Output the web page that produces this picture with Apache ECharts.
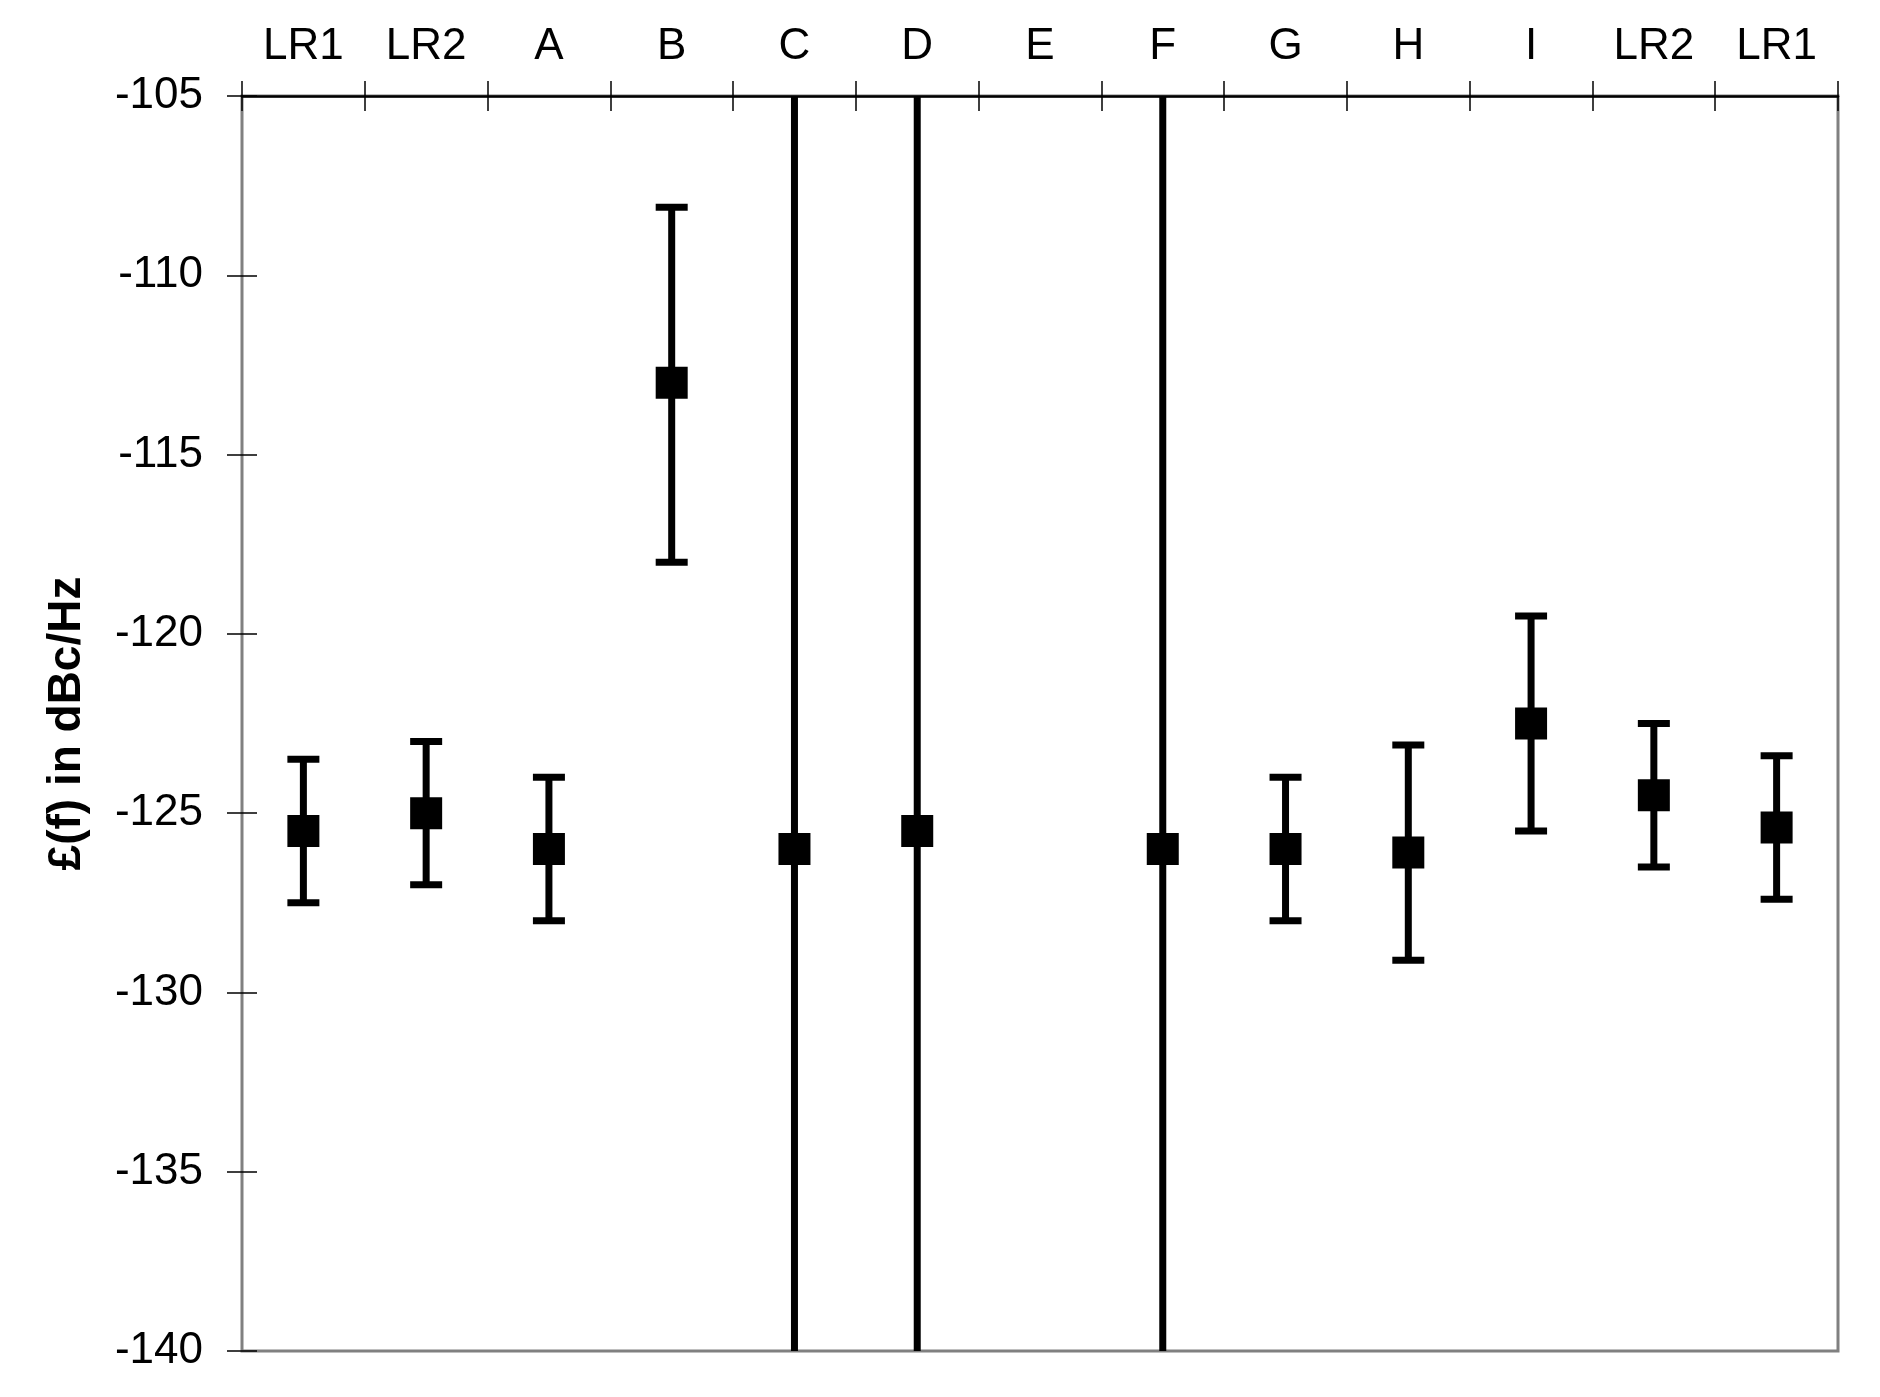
<!DOCTYPE html>
<html>
<head>
<meta charset="utf-8">
<script src="https://cdn.jsdelivr.net/npm/echarts@6/dist/echarts.min.js"></script>
<style>
html,body{margin:0;padding:0;background:#fff;}
#chart{width:1880px;height:1397px;}
</style>
</head>
<body>
<div id="chart"></div>
<script>
const categories = ['LR1','LR2','A','B','C','D','E','F','G','H','I','LR2','LR1'];
const values   = [-125.5, -125.0, -126.0, -113.0, -126.0, -125.5, null, -126.0, -126.0, -126.1, -122.5, -124.5, -125.4];
const errLow   = [-127.5, -127.0, -128.0, -118.0, -170.0, -170.0, null, -170.0, -128.0, -129.1, -125.5, -126.5, -127.4];
const errHigh  = [-123.5, -123.0, -124.0, -108.1,  -80.0,  -80.0, null,  -80.0, -124.0, -123.1, -119.5, -122.5, -123.4];
const yTicks = { min: -140, max: -105, interval: 5 };

const pointData = [];
const errData = [];
values.forEach((v, i) => {
  if (v !== null) pointData.push([i, v]);
  if (errLow[i] !== null) errData.push([i, errLow[i], errHigh[i]]);
});

const FONT = '"Liberation Sans", Arial, sans-serif';
const chart = echarts.init(document.getElementById('chart'), null, {renderer: 'canvas'});

const xBase = {
  type: 'category',
  data: categories,
  position: 'top',
  boundaryGap: true,
  splitLine: {show: false}
};
const yBase = {
  type: 'value',
  position: 'left',
  min: yTicks.min,
  max: yTicks.max,
  interval: yTicks.interval,
  splitLine: {show: false}
};

chart.setOption({
  animation: false,
  backgroundColor: '#ffffff',
  grid: {
    left: 242, right: 42, top: 96, bottom: 46,
    show: true, borderColor: '#808080', borderWidth: 3, backgroundColor: 'transparent'
  },
  xAxis: [
    Object.assign({}, xBase, {
      axisLine: {show: true, lineStyle: {color: '#000', width: 2.5}},
      axisTick: {show: true, inside: false, length: 15, lineStyle: {color: '#000', width: 1.5}},
      axisLabel: {show: true, margin: 27, color: '#000', fontSize: 44, fontFamily: FONT, interval: 0}
    }),
    Object.assign({}, xBase, {
      axisLine: {show: false},
      axisTick: {show: true, inside: true, length: 15, lineStyle: {color: '#000', width: 1.5}},
      axisLabel: {show: false}
    })
  ],
  yAxis: [
    Object.assign({}, yBase, {
      name: '£(f) in dBc/Hz',
      nameLocation: 'middle',
      nameRotate: 90,
      nameGap: 152,
      nameTextStyle: {color: '#000', fontSize: 46, fontWeight: 'bold', fontFamily: FONT},
      axisLine: {show: false},
      axisTick: {show: true, inside: false, length: 15, lineStyle: {color: '#000', width: 1.5}},
      axisLabel: {show: true, margin: 39, color: '#000', fontSize: 44, fontFamily: FONT}
    }),
    Object.assign({}, yBase, {
      axisLine: {show: false},
      axisTick: {show: true, inside: true, length: 15, lineStyle: {color: '#000', width: 1.5}},
      axisLabel: {show: false}
    })
  ],
  series: [
    {
      type: 'custom',
      name: 'error',
      xAxisIndex: 0,
      yAxisIndex: 0,
      data: errData,
      z: 2,
      renderItem: function (params, api) {
        const x = api.value(0);
        const lo = api.value(1);
        const hi = api.value(2);
        const pLo = api.coord([x, lo]);
        const pHi = api.coord([x, hi]);
        const cs = params.coordSys;
        const top = cs.y, bottom = cs.y + cs.height;
        const yHi = Math.max(top, pHi[1]);
        const yLo = Math.min(bottom, pLo[1]);
        const px = pLo[0];
        const capHalf = 16;
        const style = {stroke: '#000', lineWidth: 7, lineCap: 'butt'};
        const children = [{
          type: 'line',
          shape: {x1: px, y1: yHi, x2: px, y2: yLo},
          style: style
        }];
        if (pHi[1] >= top) {
          children.push({type: 'line', shape: {x1: px - capHalf, y1: pHi[1], x2: px + capHalf, y2: pHi[1]}, style: style});
        }
        if (pLo[1] <= bottom) {
          children.push({type: 'line', shape: {x1: px - capHalf, y1: pLo[1], x2: px + capHalf, y2: pLo[1]}, style: style});
        }
        return {type: 'group', children: children};
      }
    },
    {
      type: 'scatter',
      name: 'value',
      xAxisIndex: 0,
      yAxisIndex: 0,
      data: pointData,
      symbol: 'rect',
      symbolSize: 32,
      itemStyle: {color: '#000', opacity: 1},
      z: 3
    }
  ]
});
</script>
</body>
</html>
